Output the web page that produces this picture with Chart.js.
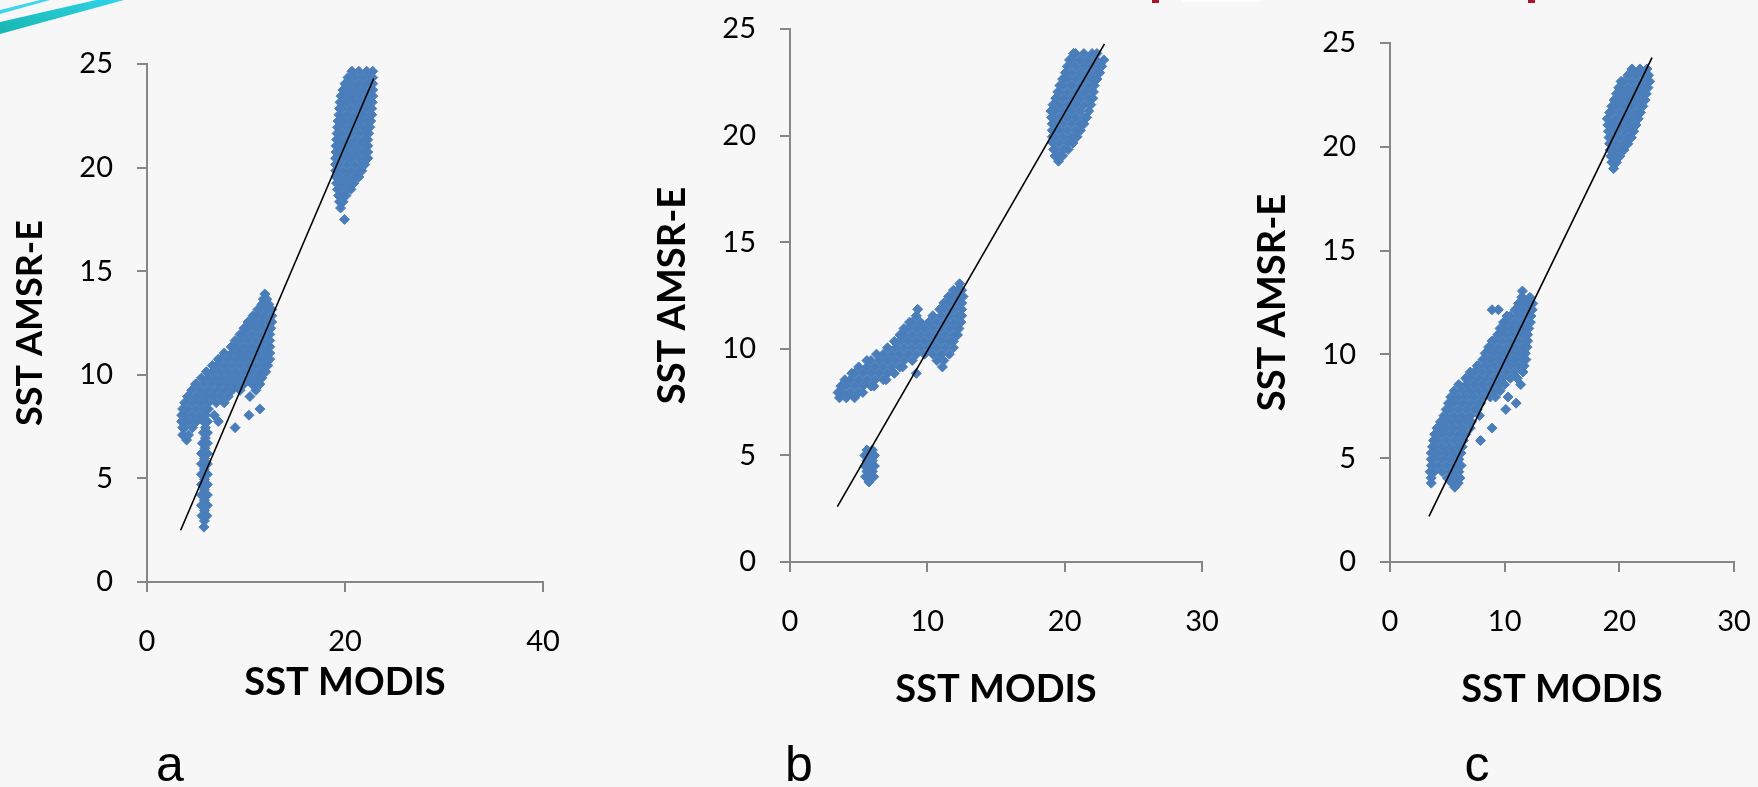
<!DOCTYPE html>
<html>
<head>
<meta charset="utf-8">
<script src="https://cdn.jsdelivr.net/npm/chart.js@4.4.1/dist/chart.umd.min.js"></script>
<style>
    html, body { margin: 0; padding: 0; }
    body { width: 1758px; height: 787px; background: #f7f7f7; position: relative; overflow: hidden; }
    canvas { position: absolute; top: 0; }
    .tag { position: absolute; top: 739px; width: 80px; text-align: center; font: 50px 'Liberation Sans', Arial, sans-serif; line-height: 1; color: #000; }
    .mark { position: absolute; top: 0; height: 3px; }
</style>
</head>
<body>
<svg width="140" height="40" style="position:absolute;left:0;top:0">
    <defs>
        <linearGradient id="sw" x1="0" y1="1" x2="1" y2="0">
            <stop offset="0" stop-color="#17b6b0"/>
            <stop offset="1" stop-color="#2fd3e6"/>
        </linearGradient>
    </defs>
    <polygon points="0,34 0,22 96,0 124,0" fill="url(#sw)"/>
    <polygon points="0,14 0,10 40,0 50,0" fill="#3fd6ec"/>
</svg>
<div class="mark" style="left:1152px;width:7px;background:#b0102a"></div>
<div class="mark" style="left:1182px;width:78px;height:2px;background:#ffffff"></div>
<div class="mark" style="left:1528px;width:7px;background:#b0102a"></div>

<canvas id="chartA" width="620" height="787" style="left:0"></canvas>
<canvas id="chartB" width="610" height="787" style="left:620px"></canvas>
<canvas id="chartC" width="528" height="787" style="left:1230px"></canvas>

<div class="tag" style="left:130px">a</div>
<div class="tag" style="left:759px">b</div>
<div class="tag" style="left:1437px">c</div>

<script>
// each row: [SST AMSR-E, [SST MODIS values...]]
const aUpperRows = [
    [24.65, [20.7, 21.4, 22.2, 22.8]],
    [24.35, [20.3, 21.0, 21.8, 22.6, 22.8]],
    [24.05, [20.0, 20.6, 21.4, 22.2, 22.8]],
    [23.75, [19.8, 20.2, 21.0, 21.8, 22.6, 22.8]],
    [23.45, [19.6, 19.8, 20.6, 21.4, 22.2, 22.8]],
    [23.15, [19.5, 20.2, 21.0, 21.8, 22.6, 22.75]],
    [22.85, [19.45, 19.8, 20.6, 21.4, 22.2, 22.7]],
    [22.55, [19.4, 20.2, 21.0, 21.8, 22.6, 22.7]],
    [22.25, [19.3, 19.8, 20.6, 21.4, 22.2, 22.6]],
    [21.95, [19.25, 19.4, 20.2, 21.0, 21.8, 22.5]],
    [21.65, [19.2, 19.8, 20.6, 21.4, 22.2, 22.4]],
    [21.35, [19.15, 19.4, 20.2, 21.0, 21.8, 22.3]],
    [21.05, [19.1, 19.8, 20.6, 21.4, 22.2, 22.3]],
    [20.75, [19.1, 19.4, 20.2, 21.0, 21.8, 22.3]],
    [20.45, [19.05, 19.8, 20.6, 21.4, 22.2, 22.3]],
    [20.15, [19.05, 19.4, 20.2, 21.0, 21.8, 22.0]],
    [19.85, [19.05, 19.8, 20.6, 21.4, 21.7]],
    [19.55, [19.1, 19.4, 20.2, 21.0, 21.4]],
    [19.25, [19.15, 19.8, 20.6, 20.9]],
    [18.95, [19.25, 19.4, 20.2, 20.6]],
    [18.65, [19.35, 19.8, 20.1]],
    [18.35, [19.45, 19.8]],
    [18.05, [19.55]],
    [17.5, [19.95]]
];
const aMidRows = [
    [13.9, [11.9]],
    [13.65, [11.75, 12.1]],
    [13.4, [11.6, 11.8, 12.3]],
    [13.15, [11.2, 11.4, 12.2, 12.6]],
    [12.85, [10.7, 11.0, 11.8, 12.6]],
    [12.55, [10.2, 10.6, 11.4, 12.2, 12.6]],
    [12.25, [9.8, 10.2, 11.0, 11.8, 12.5]],
    [11.95, [9.4, 9.8, 10.6, 11.4, 12.2, 12.4]],
    [11.65, [8.9, 9.4, 10.2, 11.0, 11.8, 12.4]],
    [11.35, [8.5, 9.0, 9.8, 10.6, 11.4, 12.2, 12.4]],
    [11.05, [7.8, 8.6, 9.4, 10.2, 11.0, 11.8, 12.4]],
    [10.75, [7.2, 7.4, 8.2, 9.0, 9.8, 10.6, 11.4, 12.2, 12.4]],
    [10.45, [6.6, 7.0, 7.8, 8.6, 9.4, 10.2, 11.0, 11.8, 12.2]],
    [10.15, [6.0, 6.6, 7.4, 8.2, 9.0, 9.8, 10.6, 11.4, 12.0]],
    [9.85, [5.5, 6.2, 7.0, 7.8, 8.6, 9.4, 10.2, 11.0, 11.6]],
    [9.55, [4.9, 5.0, 5.8, 6.6, 7.4, 8.2, 9.0, 9.8, 10.6, 11.4]],
    [9.25, [4.5, 5.4, 6.2, 7.0, 7.8, 8.6, 9.4, 11.0]],
    [8.95, [4.1, 4.2, 5.0, 5.8, 6.6, 7.4, 8.2, 10.4]],
    [8.65, [3.8, 4.6, 5.4, 6.2, 7.0, 7.8]],
    [8.35, [3.6, 4.2, 5.0, 5.8, 6.2, 11.4]],
    [8.05, [3.5, 3.8, 4.6, 5.4, 5.9, 6.8, 10.3]],
    [7.75, [3.5, 4.2, 5.0, 5.7, 6.1, 7.2]],
    [7.45, [3.6, 3.8, 4.6, 5.9, 8.9]],
    [7.1, [3.6, 4.2]],
    [6.85, [4.0]]
];
const aLowRows = [
    [7.2, [5.7, 6.1]],
    [6.95, [5.9]],
    [6.7, [5.6, 6.1]],
    [6.45, [5.85]],
    [6.2, [5.5, 6.1]],
    [5.95, [5.8]],
    [5.7, [5.5, 6.1]],
    [5.45, [5.8]],
    [5.2, [5.5, 6.1]],
    [4.95, [5.8]],
    [4.7, [5.5, 6.1]],
    [4.45, [5.8]],
    [4.2, [5.5, 6.1]],
    [3.95, [5.8]],
    [3.7, [5.5, 6.1]],
    [3.45, [5.8]],
    [3.2, [5.55, 6.05]],
    [2.95, [5.8]],
    [2.65, [5.75]]
];
const aFitX = [3.4, 22.9];
const aFitY = [2.5, 24.3];

const bUpperRows = [
    [23.85, [20.65, 20.8, 21.4, 22.0, 22.35]],
    [23.55, [20.35, 20.5, 21.1, 21.7, 22.3, 22.85]],
    [23.25, [20.2, 20.8, 21.4, 22.0, 22.6, 22.7]],
    [22.95, [20.05, 20.5, 21.1, 21.7, 22.3, 22.55]],
    [22.65, [19.85, 20.2, 20.8, 21.4, 22.0, 22.35]],
    [22.35, [19.65, 19.9, 20.5, 21.1, 21.7, 22.15]],
    [22.05, [19.5, 19.6, 20.2, 20.8, 21.4, 22.0, 22.1]],
    [21.75, [19.35, 19.9, 20.5, 21.1, 21.7, 22.05]],
    [21.45, [19.15, 19.6, 20.2, 20.8, 21.4, 21.9]],
    [21.15, [19.0, 19.3, 19.9, 20.5, 21.1, 21.75]],
    [20.85, [19.05, 19.6, 20.2, 20.8, 21.4, 21.6]],
    [20.55, [19.1, 19.3, 19.9, 20.5, 21.1, 21.4]],
    [20.25, [19.1, 19.6, 20.2, 20.8, 21.15]],
    [19.95, [19.1, 19.3, 19.9, 20.5, 20.9]],
    [19.65, [19.15, 19.6, 20.2, 20.6]],
    [19.35, [19.2, 19.3, 19.9, 20.25]],
    [19.05, [19.3, 19.6, 19.85]],
    [18.8, [19.55]]
];
const bMidRows = [
    [13.05, [12.35]],
    [12.75, [11.9, 12.2, 12.5]],
    [12.45, [11.55, 11.9, 12.5, 12.6]],
    [12.15, [11.2, 11.6, 12.2, 12.5]],
    [11.85, [9.3, 10.9, 11.3, 11.9, 12.5]],
    [11.55, [9.2, 10.4, 11.0, 11.6, 12.2, 12.5]],
    [11.25, [8.7, 8.9, 9.5, 10.1, 10.7, 11.3, 11.9, 12.45]],
    [10.95, [8.3, 8.6, 9.2, 9.8, 10.4, 11.0, 11.6, 12.2, 12.3]],
    [10.65, [8.0, 8.3, 8.9, 9.5, 10.1, 10.7, 11.3, 11.9, 12.2]],
    [10.35, [7.6, 8.0, 8.6, 9.2, 9.8, 10.4, 11.0, 11.6, 11.9]],
    [10.05, [7.1, 7.7, 8.3, 8.9, 9.5, 10.1, 10.7, 11.3, 11.9]],
    [9.75, [6.3, 6.8, 7.4, 8.0, 8.6, 9.2, 9.8, 10.4, 11.0, 11.6]],
    [9.45, [5.6, 5.9, 6.5, 7.1, 7.7, 8.3, 8.9, 10.7, 11.2]],
    [9.15, [5.0, 5.6, 6.2, 6.8, 7.4, 8.0, 8.2, 11.1]],
    [8.85, [4.5, 4.7, 5.3, 5.9, 6.5, 7.1, 7.6, 9.2]],
    [8.55, [4.0, 4.4, 5.0, 5.6, 6.2, 6.8, 7.0]],
    [8.25, [3.7, 4.1, 4.7, 5.3, 5.9, 6.1]],
    [7.95, [3.5, 3.8, 4.4, 5.0, 5.3]],
    [7.7, [3.6, 4.1, 4.7]]
];
const bLowRows = [
    [5.25, [5.6, 6.0]],
    [5.0, [5.45, 5.8, 6.15]],
    [4.75, [5.6, 6.0]],
    [4.5, [5.45, 5.8, 6.15]],
    [4.25, [5.6, 6.0]],
    [4.0, [5.5, 5.85, 6.1]],
    [3.75, [5.75]]
];
const bFitX = [3.45, 22.9];
const bFitY = [2.6, 24.3];

const cUpperRows = [
    [23.75, [21.1, 21.8, 22.4]],
    [23.45, [20.75, 21.45, 22.15, 22.55]],
    [23.15, [20.15, 20.4, 21.1, 21.8, 22.5, 22.65]],
    [22.85, [19.95, 20.05, 20.75, 21.45, 22.15, 22.5]],
    [22.55, [19.75, 20.4, 21.1, 21.8, 22.35]],
    [22.25, [19.55, 20.05, 20.75, 21.45, 22.15, 22.25]],
    [21.95, [19.35, 19.7, 20.4, 21.1, 21.8, 22.05]],
    [21.65, [19.15, 19.35, 20.05, 20.75, 21.45, 21.85]],
    [21.35, [18.95, 19.7, 20.4, 21.1, 21.65]],
    [21.05, [19.0, 19.35, 20.05, 20.75, 21.45]],
    [20.75, [19.05, 19.7, 20.4, 21.1, 21.25]],
    [20.45, [19.1, 19.35, 20.05, 20.75, 21.05]],
    [20.15, [19.15, 19.7, 20.4, 20.75]],
    [19.85, [19.2, 19.35, 20.05, 20.4]],
    [19.55, [19.25, 19.7, 20.05]],
    [19.25, [19.35, 19.75]],
    [18.95, [19.5]]
];
const cMidRows = [
    [13.05, [11.55]],
    [12.75, [11.5, 11.55, 12.2]],
    [12.45, [11.2, 11.9, 12.45]],
    [12.15, [8.9, 9.45, 10.9, 11.55, 12.25, 12.4]],
    [11.85, [10.2, 10.5, 11.2, 11.9, 12.3]],
    [11.55, [9.9, 10.15, 10.85, 11.55, 12.25]],
    [11.25, [9.6, 9.8, 10.5, 11.2, 11.9, 12.1]],
    [10.95, [9.4, 9.45, 10.15, 10.85, 11.55, 12.0]],
    [10.65, [8.9, 9.1, 9.8, 10.5, 11.2, 11.9, 12.0]],
    [10.35, [8.6, 8.75, 9.45, 10.15, 10.85, 11.55, 11.95]],
    [10.05, [8.3, 8.4, 9.1, 9.8, 10.5, 11.2, 11.8]],
    [9.75, [8.1, 8.75, 9.45, 10.15, 10.85, 11.55, 11.85]],
    [9.45, [7.6, 7.7, 8.4, 9.1, 9.8, 10.5, 11.2, 11.7]],
    [9.15, [7.0, 7.35, 8.05, 8.75, 9.45, 10.15, 10.85, 11.6]],
    [8.85, [6.6, 7.0, 7.7, 8.4, 9.1, 9.8, 10.5, 11.1]],
    [8.55, [6.0, 6.65, 7.35, 8.05, 8.75, 9.45, 10.0, 11.4]],
    [8.25, [5.6, 6.3, 7.0, 7.7, 8.4, 9.1, 9.6]],
    [7.95, [5.3, 5.95, 6.65, 7.35, 8.05, 8.75, 9.2, 10.3]],
    [7.65, [5.1, 5.6, 6.3, 7.0, 7.7, 7.9, 11.0]],
    [7.35, [4.9, 5.25, 5.95, 6.65, 7.35, 7.6, 10.1]],
    [7.05, [4.7, 4.9, 5.6, 6.3, 7.0, 7.8]]
];
const cLowRows = [
    [6.75, [4.4, 4.55, 5.25, 5.95, 6.65, 7.1]],
    [6.45, [4.1, 4.2, 4.9, 5.6, 6.3, 7.0, 8.9]],
    [6.15, [3.9, 4.55, 5.25, 5.95, 6.6]],
    [5.85, [3.8, 4.2, 4.9, 5.6, 6.3, 6.4, 7.9]],
    [5.55, [3.7, 3.85, 4.55, 5.25, 5.95, 6.3]],
    [5.25, [3.6, 4.2, 4.9, 5.6, 6.2]],
    [4.95, [3.6, 3.85, 4.55, 5.25, 5.95, 6.0]],
    [4.65, [3.6, 4.2, 4.9, 5.6, 6.2]],
    [4.35, [3.5, 3.85, 4.55, 5.25, 5.95, 6.0]],
    [4.05, [3.6, 5.0, 5.6, 6.1]],
    [3.8, [3.6, 5.4, 5.95]],
    [3.6, [5.65]]
];
const cFitX = [3.4, 22.85];
const cFitY = [2.2, 24.3];

const yTicks = [0, 5, 10, 15, 20, 25];
const xTitle = 'SST MODIS';
const yTitle = 'SST AMSR-E';

const BLUE = '#4a7ebb';
const AXIS_GREY = '#868686';

function toPoints(...groups) {
    return groups.flatMap((rows) => rows.flatMap(([y, xs]) => xs.map((x) => ({ x, y }))));
}

function fitLine(xs, ys) {
    return xs.map((x, i) => ({ x, y: ys[i] }));
}

function makeChart(id, opts) {
    const axisGrid = { drawOnChartArea: false, drawTicks: true, tickLength: 10, color: AXIS_GREY, lineWidth: 2 };
    const axisBorder = { display: true, color: AXIS_GREY, width: 2 };
    const tickFont = { family: 'Lato', size: 29 };

    return new Chart(document.getElementById(id), {
        type: 'scatter',
        data: {
            datasets: [
                { data: opts.fit, showLine: true, borderColor: '#000', borderWidth: 1.6, pointRadius: 0 },
                { data: opts.points, pointStyle: 'rectRot', pointRadius: 5, pointBorderWidth: 1, backgroundColor: BLUE, borderColor: BLUE },
            ],
        },
        options: {
            responsive: false,
            animation: false,
            events: [],
            layout: { padding: { left: 0, top: opts.padTop, right: opts.padRight, bottom: opts.padBottom } },
            plugins: { legend: { display: false }, tooltip: { enabled: false } },
            scales: {
                x: {
                    min: 0, max: opts.xMax,
                    grid: axisGrid, border: axisBorder,
                    ticks: { stepSize: opts.xStep, padding: 32, color: '#000', font: tickFont },
                    title: { display: true, text: xTitle, color: '#000', font: { family: 'Lato', size: 38, weight: 'bold' }, padding: { top: 0, bottom: 0 } },
                    afterFit: (s) => { s.height = opts.xAxisH; s.paddingLeft = 0; s.paddingRight = 0; },
                },
                y: {
                    min: 0, max: 25,
                    afterBuildTicks: (s) => { s.ticks = yTicks.map((v) => ({ value: v })); },
                    grid: axisGrid, border: axisBorder,
                    ticks: { padding: 24, color: '#000', font: tickFont },
                    title: { display: true, text: yTitle, color: '#000', font: { family: 'Lato', size: opts.yTitleSize, weight: 'bold' }, padding: { top: opts.yTitlePad, bottom: 0 } },
                    afterFit: (s) => { s.width = opts.yAxisW; s.paddingTop = 0; s.paddingBottom = 0; },
                },
            },
        },
    });
}

makeChart('chartA', {
    points: toPoints(aUpperRows, aMidRows, aLowRows), fit: fitLine(aFitX, aFitY),
    xMax: 40, xStep: 20, yAxisW: 147, yTitlePad: 8.4, yTitleSize: 36,
    padTop: 64, padRight: 77, xAxisH: 124, padBottom: 81,
});
makeChart('chartB', {
    points: toPoints(bUpperRows, bMidRows, bLowRows), fit: fitLine(bFitX, bFitY),
    xMax: 30, xStep: 10, yAxisW: 170, yTitlePad: 29.8, yTitleSize: 38,
    padTop: 29, padRight: 28, xAxisH: 151, padBottom: 74,
});
makeChart('chartC', {
    points: toPoints(cUpperRows, cMidRows, cLowRows), fit: fitLine(cFitX, cFitY),
    xMax: 30, xStep: 10, yAxisW: 160, yTitlePad: 20.2, yTitleSize: 38,
    padTop: 43, padRight: 24, xAxisH: 151, padBottom: 74,
});
</script>
</body>
</html>
